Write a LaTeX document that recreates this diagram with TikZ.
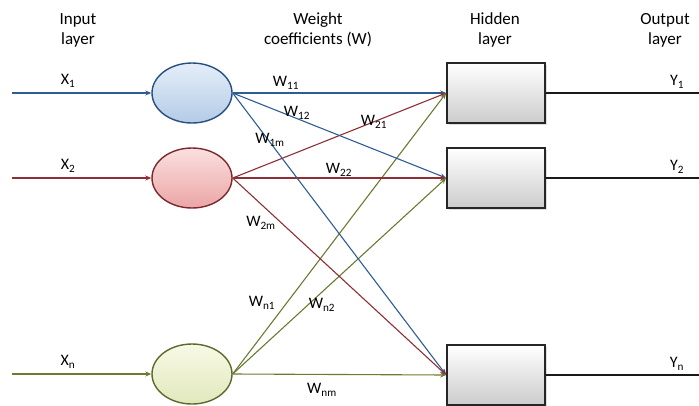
\documentclass[tikz,border=0pt]{standalone}
\usepackage{fontspec}
\setmainfont{Carlito}
\usetikzlibrary{arrows.meta,shapes.geometric,shadows}
\definecolor{lblue}{HTML}{2E5C96}
\definecolor{lred}{HTML}{8E2F35}
\definecolor{lgreen}{HTML}{6B7B33}
\definecolor{cbtop}{HTML}{E4EEF9}
\definecolor{cbbot}{HTML}{B4CBE6}
\definecolor{crtop}{HTML}{FBE0E0}
\definecolor{crbot}{HTML}{EBA5A5}
\definecolor{cgtop}{HTML}{F8F9E6}
\definecolor{cgbot}{HTML}{E1E8BC}
\begin{document}
\begin{tikzpicture}[x=1pt,y=-1pt,
  neuron/.style={ellipse, minimum width=80pt, minimum height=60pt, line width=1.4pt, inner sep=0pt},
  hid/.style={rectangle, minimum width=98pt, minimum height=60pt, line width=1.6pt, draw=black!85,
     top color=white, bottom color=black!20, drop shadow={opacity=0.25, shadow xshift=1.5pt, shadow yshift=-1.5pt}},
  conn/.style={line width=1.1pt, -{Stealth[length=6pt,width=5pt]}},
  outl/.style={line width=1.7pt, black!90},
  head/.style={font=\fontsize{17}{20}\selectfont, align=center, text=black},
  lab/.style={font=\fontsize{16}{18}\selectfont, text=black, inner sep=0pt}]
\useasboundingbox (0,0) rectangle (699,405);
% headings
\node[head] (h1) at (78,30) {Input\\layer};
\node[head] (h2) at (318,30) {Weight\\coefficients (W)};
\node[head] (h3) at (495,30) {Hidden\\layer};
\node[head] (h4) at (665,30) {Output\\layer};
% neurons
\node[neuron, draw=lblue!85!black, top color=cbtop, bottom color=cbbot] (c1) at (192,93) {};
\node[neuron, draw=lred!85!black, top color=crtop, bottom color=crbot] (c2) at (192,178) {};
\node[neuron, draw=lgreen!85!black, top color=cgtop, bottom color=cgbot] (c3) at (192,374) {};
% hidden
\node[hid] (b1) at (496,93) {};
\node[hid] (b2) at (496,178) {};
\node[hid] (b3) at (496,375) {};
% inputs
\coordinate (i1) at (12,93);
\coordinate (i2) at (12,178);
\coordinate (i3) at (12,374);
\draw[conn, lblue] (i1) -- (c1.west);
\draw[conn, lred] (i2) -- (c2.west);
\draw[conn, lgreen] (i3) -- (c3.west);
\node[lab] (x1) at (68,81) {X\textsubscript{1}};
\node[lab] (x2) at (68,166) {X\textsubscript{2}};
\node[lab] (x3) at (68,362) {X\textsubscript{n}};
% weights
\foreach \b in {b1,b2,b3} {
  \draw[conn, lblue] (c1.east) -- (\b.west);
  \draw[conn, lred] (c2.east) -- (\b.west);
  \draw[conn, lgreen] (c3.east) -- (\b.west);
}
\node[lab] (w11) at (286,83) {W\textsubscript{11}};
\node[lab] (w12) at (297,113) {W\textsubscript{12}};
\node[lab] (w1m) at (270,140) {W\textsubscript{1m}};
\node[lab] (w21) at (374,122) {W\textsubscript{21}};
\node[lab] (w22) at (339,170) {W\textsubscript{22}};
\node[lab] (w2m) at (261,223) {W\textsubscript{2m}};
\node[lab] (wn1) at (262,303) {W\textsubscript{n1}};
\node[lab] (wn2) at (322,305) {W\textsubscript{n2}};
\node[lab] (wnm) at (322,390) {W\textsubscript{nm}};
% outputs
\coordinate (o1) at (699,93);
\coordinate (o2) at (699,178);
\coordinate (o3) at (699,375);
\draw[outl] (b1.east) -- (o1);
\draw[outl] (b2.east) -- (o2);
\draw[outl] (b3.east) -- (o3);
\node[lab] (y1) at (677,82) {Y\textsubscript{1}};
\node[lab] (y2) at (677,167) {Y\textsubscript{2}};
\node[lab] (y3) at (677,364) {Y\textsubscript{n}};
\end{tikzpicture}
\end{document}
